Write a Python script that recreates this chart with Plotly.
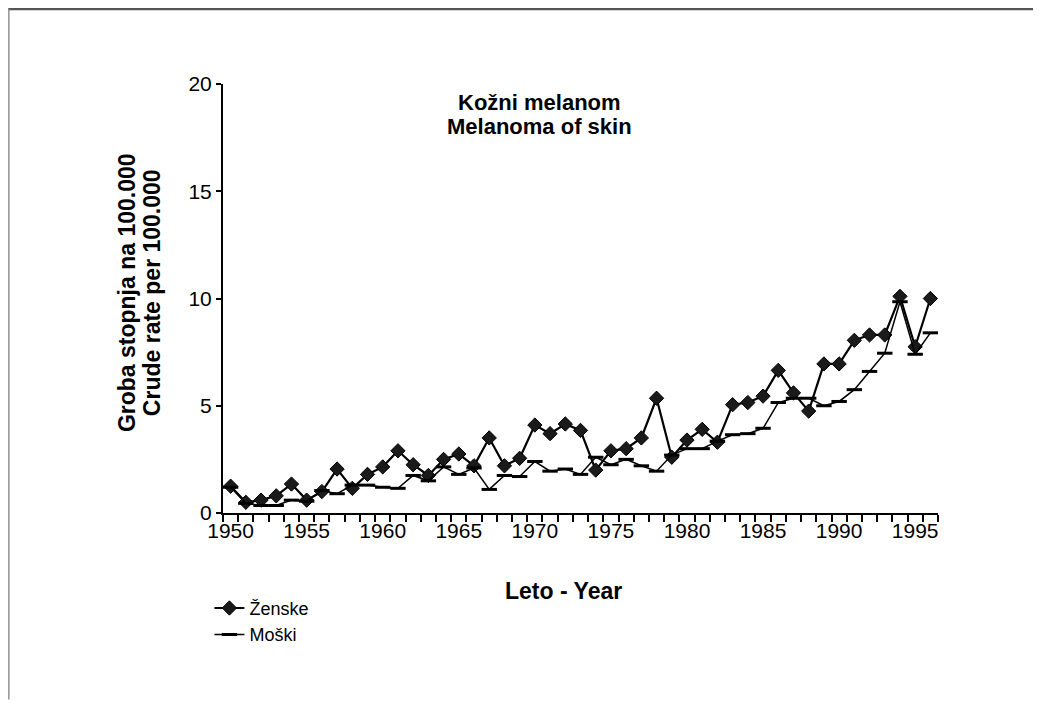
import plotly.graph_objects as go

years = list(range(1950, 1997))
zenske = [1.25, 0.5, 0.6, 0.8, 1.35, 0.6, 1.0, 2.05, 1.15, 1.8,
          2.15, 2.9, 2.25, 1.75, 2.5, 2.75, 2.2, 3.5, 2.2, 2.55,
          4.1, 3.7, 4.15, 3.85, 2.0, 2.9, 3.0, 3.5, 5.35, 2.6,
          3.4, 3.9, 3.3, 5.05, 5.15, 5.45, 6.65, 5.6, 4.75, 6.95,
          6.95, 8.05, 8.3, 8.3, 10.1, 7.75, 10.0]
moski = [1.2, 0.45, 0.35, 0.35, 0.6, 0.55, 1.05, 0.9, 1.3, 1.3,
         1.2, 1.15, 1.75, 1.5, 2.15, 1.8, 2.1, 1.1, 1.75, 1.7,
         2.4, 1.95, 2.05, 1.8, 2.6, 2.25, 2.5, 2.2, 1.95, 2.7,
         3.0, 3.0, 3.35, 3.65, 3.7, 3.95, 5.15, 5.35, 5.35, 5.0,
         5.2, 5.75, 6.6, 7.45, 9.85, 7.4, 8.4]
x_ticks = [1950, 1955, 1960, 1965, 1970, 1975, 1980, 1985, 1990, 1995]
y_ticks = [0, 5, 10, 15, 20]

FONT = "Liberation Sans, Arial, sans-serif"

fig = go.Figure()
fig.add_trace(go.Scatter(
    x=years, y=zenske, name="Ženske", mode="lines+markers",
    line=dict(color="black", width=2.2),
    marker=dict(symbol="diamond", size=11, color="#1a1a1a",
                line=dict(color="black", width=1)),
))
fig.add_trace(go.Scatter(
    x=years, y=moski, name="Moški", mode="lines+markers",
    line=dict(color="black", width=1.5),
    marker=dict(symbol="line-ew", size=11,
                line=dict(color="black", width=3)),
))

# the page body has an 8px margin, so the figure origin sits at (8, 8)
fig.update_layout(
    width=1033, height=692,
    margin=dict(l=215, r=103, t=76, b=187),
    paper_bgcolor="white", plot_bgcolor="white",
    font=dict(family=FONT, color="black"),
    showlegend=True,
    legend=dict(x=-0.019, y=-0.179, xanchor="left", yanchor="top",
                font=dict(size=18, family=FONT), bgcolor="rgba(0,0,0,0)",
                tracegroupgap=0),
    xaxis=dict(range=[1949.5, 1996.5], tickvals=x_ticks,
               ticktext=[str(v) for v in x_ticks], ticks="",
               tickfont=dict(size=21, family=FONT),
               ticklabelstandoff=-2,
               showgrid=False, zeroline=False, showline=True,
               linecolor="black", linewidth=2,
               minor=dict(ticks="outside", tick0=1949.5, dtick=1,
                          ticklen=7, tickcolor="black", tickwidth=1.5,
                          showgrid=False)),
    yaxis=dict(range=[0, 20], tickvals=y_ticks, ticks="outside",
               ticklen=5, tickwidth=1.5, tickcolor="black",
               tickfont=dict(size=21, family=FONT),
               showgrid=False, zeroline=False, showline=True,
               linecolor="black", linewidth=2),
)

ann = [
    dict(text="<b>Kožni melanom</b>", x=0.443, y=0.958, size=22),
    dict(text="<b>Melanoma of skin</b>", x=0.443, y=0.900, size=22),
    dict(text="<b>Leto - Year</b>", x=0.476, y=-0.182, size=23),
]
for a in ann:
    fig.add_annotation(text=a["text"], x=a["x"], y=a["y"], xref="paper",
                       yref="paper", showarrow=False, xanchor="center",
                       yanchor="middle", font=dict(size=a["size"], family=FONT))
for txt, xp in [("<b>Groba stopnja na 100.000</b>", -0.134),
                ("<b>Crude rate per 100.000</b>", -0.099)]:
    fig.add_annotation(text=txt, x=xp, y=0.513, xref="paper", yref="paper",
                       showarrow=False, textangle=-90, xanchor="center",
                       yanchor="middle", font=dict(size=23, family=FONT))

# page frame (top and left edges of the scanned page)
fig.add_shape(type="line", xref="paper", yref="paper",
              x0=-0.3, x1=1.145, y0=1.175, y1=1.175,
              line=dict(color="#555555", width=2.5))
fig.add_shape(type="line", xref="paper", yref="paper",
              x0=-0.2995, x1=-0.2995, y0=1.177, y1=-0.435,
              line=dict(color="#777777", width=1.2))

fig.write_html("out.html")
